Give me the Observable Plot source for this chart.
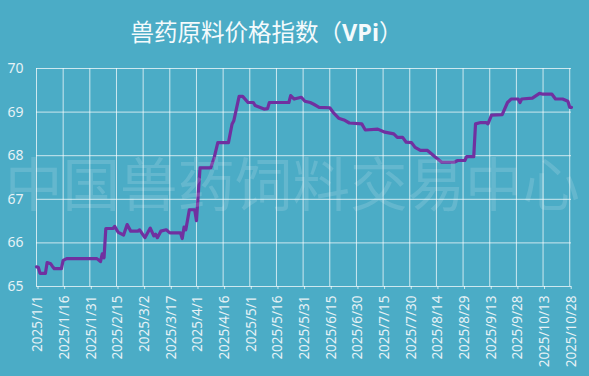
<!DOCTYPE html>
<html>
<head>
<meta charset="utf-8">
<script src="https://cdn.jsdelivr.net/npm/d3@7"></script>
<script src="https://cdn.jsdelivr.net/npm/@observablehq/plot@0.6"></script>
<style>
  html, body { margin: 0; padding: 0; }
  body { width: 589px; height: 376px; background: #4BACC6; overflow: hidden; position: relative; font-family: "Noto Sans", "Noto Sans CJK SC", sans-serif; }
  #title { position: absolute; left: 0; top: 0; width: 533px; padding-right: 56px; height: 56px; text-align: center;
           font-family: "Noto Sans CJK SC", "Noto Sans", sans-serif; font-size: 23.5px; line-height: 23px; color: #f4fafc; padding-top: 20px; box-sizing: content-box; }
  #title b { font-family: "Noto Sans", sans-serif; font-weight: 700; }
  #chart { position: absolute; left: 0; top: 56px; }
  #wm { position: absolute; left: 5px; top: 153px; font-family: "Noto Sans CJK SC", sans-serif; font-weight: 400; font-size: 57.5px; line-height: 57.5px;
        color: rgba(255,255,255,0.14); white-space: nowrap; pointer-events: none; }
</style>
</head>
<body>
<div id="title">兽药原料价格指数（<b>VPi</b>）</div>
<div id="chart"></div>
<div id="wm">中国兽药饲料交易中心</div>
<script>
const dates = [
  "2025-01-01","2025-01-02","2025-01-03","2025-01-06","2025-01-07","2025-01-09","2025-01-10","2025-01-11","2025-01-15","2025-01-16",
  "2025-01-18","2025-02-04","2025-02-06","2025-02-07","2025-02-08","2025-02-09","2025-02-13","2025-02-14","2025-02-16","2025-02-19",
  "2025-02-21","2025-02-23","2025-02-27","2025-02-28","2025-03-03","2025-03-06","2025-03-08","2025-03-09","2025-03-10","2025-03-12",
  "2025-03-15","2025-03-17","2025-03-23","2025-03-24","2025-03-25","2025-03-26","2025-03-28","2025-03-31","2025-04-01","2025-04-03",
  "2025-04-09","2025-04-11","2025-04-13","2025-04-19","2025-04-21","2025-04-22","2025-04-25","2025-04-27","2025-04-30","2025-05-03",
  "2025-05-04","2025-05-09","2025-05-11","2025-05-12","2025-05-23","2025-05-24","2025-05-26","2025-05-30","2025-06-01","2025-06-04",
  "2025-06-06","2025-06-09","2025-06-15","2025-06-17","2025-06-20","2025-06-23","2025-06-26","2025-07-03","2025-07-05","2025-07-12",
  "2025-07-16","2025-07-21","2025-07-23","2025-07-26","2025-07-28","2025-07-31","2025-08-02","2025-08-05","2025-08-09","2025-08-13",
  "2025-08-17","2025-08-24","2025-08-26","2025-08-30","2025-08-31","2025-09-04","2025-09-05","2025-09-08","2025-09-11","2025-09-12",
  "2025-09-14","2025-09-20","2025-09-23","2025-09-25","2025-09-29","2025-09-30","2025-10-01","2025-10-07","2025-10-11","2025-10-13",
  "2025-10-18","2025-10-20","2025-10-24","2025-10-27","2025-10-28","2025-10-29"
];
const values = [
  65.45,65.44,65.30,65.30,65.55,65.52,65.46,65.41,65.41,65.60,
  65.64,65.64,65.57,65.75,65.66,66.33,66.33,66.38,66.24,66.18,
  66.42,66.27,66.27,66.30,66.12,66.34,66.16,66.20,66.12,66.27,
  66.30,66.23,66.23,66.10,66.36,66.30,66.76,66.76,66.51,67.72,
  67.72,67.96,68.30,68.30,68.72,68.80,69.36,69.36,69.22,69.22,
  69.15,69.07,69.08,69.22,69.22,69.38,69.30,69.34,69.25,69.22,
  69.18,69.11,69.10,68.99,68.86,68.82,68.75,68.73,68.59,68.61,
  68.54,68.50,68.42,68.42,68.31,68.30,68.19,68.12,68.12,67.98,
  67.85,67.85,67.89,67.89,67.98,67.98,68.73,68.76,68.76,68.73,
  68.93,68.94,69.22,69.30,69.30,69.22,69.30,69.32,69.43,69.41,
  69.41,69.30,69.30,69.25,69.11,69.11
];
const xTickLabels = [
  "2025/1/1","2025/1/16","2025/1/31","2025/2/15","2025/3/2","2025/3/17","2025/4/1","2025/4/16","2025/5/1","2025/5/16",
  "2025/5/31","2025/6/15","2025/6/30","2025/7/15","2025/7/30","2025/8/14","2025/8/29","2025/9/13","2025/9/28","2025/10/13","2025/10/28"
];
const yTicks = [65, 66, 67, 68, 69, 70];

const parseLabel = s => { const [y, m, d] = s.split("/").map(Number); return new Date(Date.UTC(y, m - 1, d)); };
const fmtLabel = d => `${d.getUTCFullYear()}/${d.getUTCMonth() + 1}/${d.getUTCDate()}`;
const xTicks = xTickLabels.map(parseLabel);
const data = dates.map((d, i) => ({date: new Date(d + "T00:00:00Z"), value: values[i]}));

const labelColor = "#e6f2f6";
const gridColor = "rgba(255,255,255,0.72)";

const chart = Plot.plot({
  width: 589,
  height: 320,
  marginLeft: 36,
  marginRight: 18,
  marginTop: 12,
  marginBottom: 90,
  style: {background: "transparent", fontFamily: "'Noto Sans', sans-serif"},
  x: {type: "utc", domain: [new Date(dates[0] + "T00:00:00Z"), new Date(dates[dates.length - 1] + "T00:00:00Z")]},
  y: {domain: [65, 70]},
  marks: [
    Plot.gridY(yTicks, {stroke: gridColor, strokeOpacity: 1, strokeWidth: 1}),
    Plot.gridX(xTicks, {stroke: gridColor, strokeOpacity: 1, strokeWidth: 1}),
    Plot.axisX(xTicks, {tickRotate: -90, tickFormat: fmtLabel, tickSize: 3, tickPadding: 6, stroke: gridColor,
      fill: labelColor, fontSize: 13.5, dx: 1.5, label: null}),
    Plot.axisY(yTicks, {tickSize: 0, tickPadding: 13, fill: labelColor, fontSize: 14, label: null}),
    Plot.lineY(data, {x: "date", y: "value", stroke: "#7030A0", strokeWidth: 3.2, strokeLinejoin: "round", strokeLinecap: "round"})
  ]
});
document.getElementById("chart").appendChild(chart);
</script>
</body>
</html>
